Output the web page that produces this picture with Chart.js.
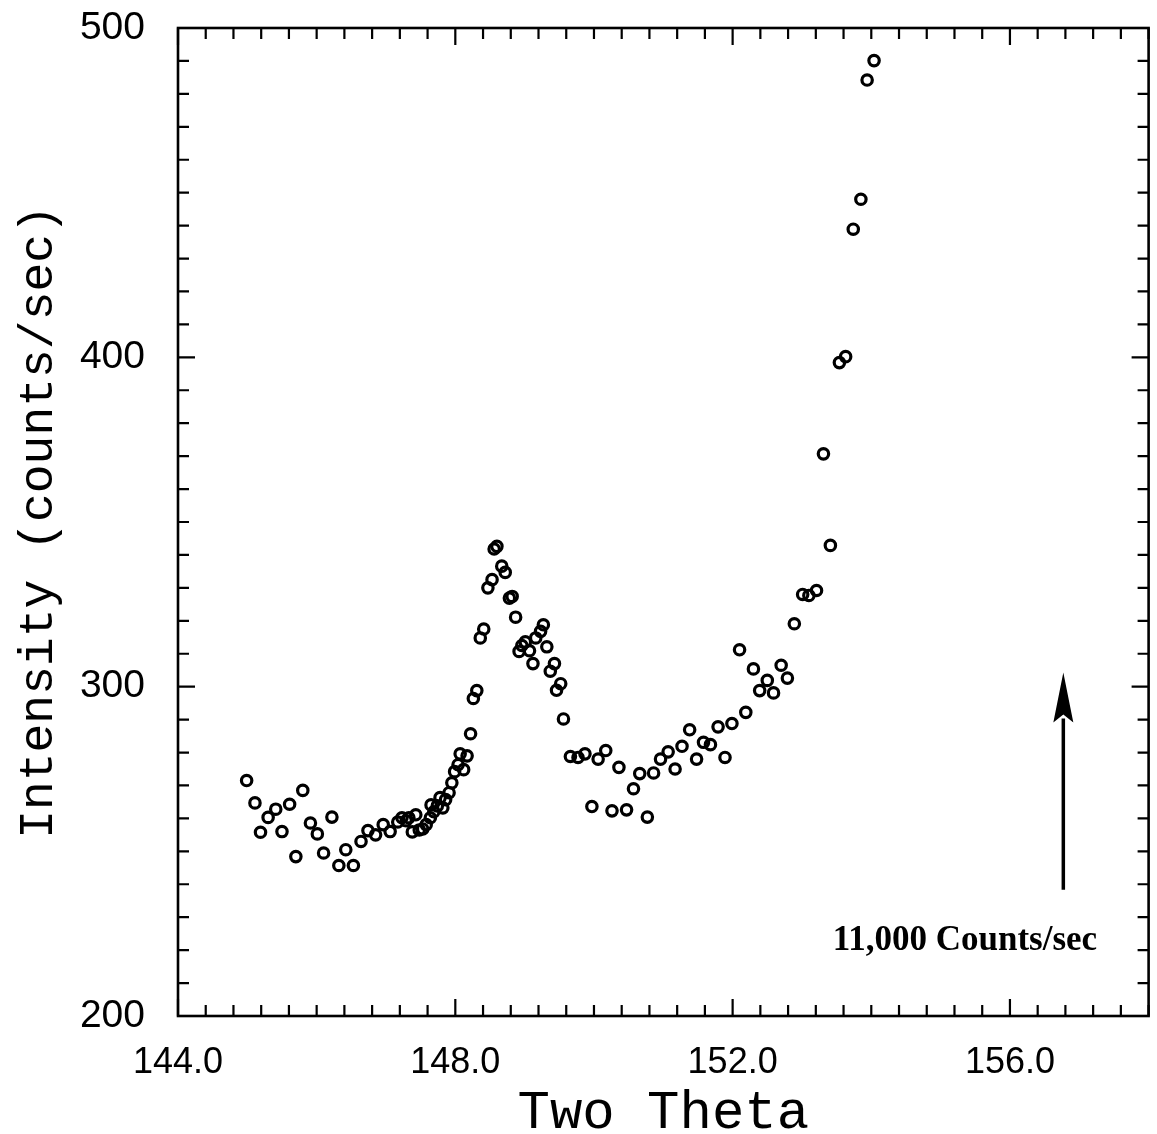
<!DOCTYPE html>
<html><head><meta charset="utf-8">
<script src="https://cdn.jsdelivr.net/npm/chart.js@4.4.1/dist/chart.umd.min.js"></script>
<style>html,body{margin:0;padding:0;background:#fff;overflow:hidden}</style>
</head><body>
<canvas id="c" width="1157" height="1134"></canvas>
<script>
// ---- data ----
const twoTheta = [
  144.99,145.11,145.19,145.30,145.41,145.50,145.61,145.70,145.80,145.91,
  146.01,146.10,146.22,146.32,146.42,146.53,146.64,146.74,146.85,146.96,
  147.06,147.17,147.23,147.29,147.33,147.38,147.43,147.48,147.53,147.58,
  147.64,147.65,147.69,147.74,147.78,147.82,147.86,147.91,147.95,147.99,
  148.04,148.07,148.12,148.17,148.22,148.26,148.31,148.36,148.41,148.47,
  148.53,148.56,148.60,148.67,148.72,148.78,148.82,148.87,148.92,148.96,
  149.01,149.07,149.12,149.16,149.23,149.27,149.32,149.37,149.43,149.46,
  149.52,149.56,149.66,149.77,149.87,149.97,150.06,150.17,150.26,150.36,
  150.47,150.57,150.66,150.77,150.86,150.96,151.07,151.17,151.27,151.38,
  151.48,151.58,151.68,151.79,151.89,151.99,152.10,152.19,152.30,152.39,
  152.50,152.59,152.70,152.79,152.89,153.01,153.10,153.21,153.31,153.41,
  153.54,153.63,153.74,153.85,153.94,154.04
];
const intensity = [
  271.5,264.7,255.8,260.3,262.8,256.0,264.3,248.4,268.5,258.6,
  255.3,249.5,260.4,245.7,250.5,245.7,253.0,256.3,255.0,258.1,
  256.0,258.9,260.2,259.3,260.2,255.9,261.1,256.5,256.8,258.1,
  260.2,264.1,262.0,263.8,266.3,263.2,265.7,267.8,270.8,274.2,
  276.3,279.6,274.8,279.0,285.7,296.4,298.8,314.8,317.5,330.0,
  332.5,341.8,342.6,336.6,334.7,326.9,327.4,321.1,310.7,312.5,
  313.6,310.9,307.0,314.8,316.8,318.8,312.1,304.7,307.0,298.9,
  300.9,290.2,278.8,278.5,279.6,263.6,278.0,280.6,262.3,275.5,
  262.6,269.0,273.6,260.4,273.8,278.0,280.2,275.0,281.9,286.9,
  278.0,283.1,282.4,287.8,278.5,288.8,311.2,292.2,305.4,298.8,
  301.9,298.1,306.5,302.6,319.1,328.0,327.7,329.2,370.7,342.9,
  398.4,400.2,438.9,448.0,484.2,490.1
];
const xTickValues = [144, 148, 152, 156];
const xTickLabels = ['144.0', '148.0', '152.0', '156.0'];
const yTickValues = [200, 300, 400, 500];
const yTickLabels = ['200', '300', '400', '500'];
const xAxisTitle = 'Two Theta';
const yAxisTitle = 'Intensity (counts/sec)';
const annotationText = '11,000 Counts/sec';

// ---- styling / layout constants ----
const X_MIN = 144, X_MAX = 158, Y_MIN = 200, Y_MAX = 500;
const X_MINOR = 0.4, X_MAJOR = 4, Y_MINOR = 10, Y_MAJOR = 100;
const ARROW_X = 156.77, ARROW_Y0 = 238.3, ARROW_Y1 = 304.3;
const NOTE_X = 155.35, NOTE_Y = 220;

const framePlugin = {
  id: 'frame',
  afterDraw(chart) {
    const {ctx, chartArea: a, scales: {x, y}} = chart;
    ctx.save();
    ctx.strokeStyle = '#000';
    ctx.lineWidth = 2.6;
    ctx.strokeRect(a.left, a.top, a.right - a.left, a.bottom - a.top);
    ctx.lineWidth = 2.2;
    ctx.beginPath();
    const nx = Math.round((X_MAX - X_MIN) / X_MINOR);
    for (let i = 0; i <= nx; i++) {
      const v = X_MIN + i * X_MINOR;
      const major = Math.abs(v / X_MAJOR - Math.round(v / X_MAJOR)) < 1e-6;
      const len = major ? 17 : 11;
      const px = x.getPixelForValue(v);
      ctx.moveTo(px, a.bottom); ctx.lineTo(px, a.bottom - len);
      ctx.moveTo(px, a.top); ctx.lineTo(px, a.top + len);
    }
    const ny = Math.round((Y_MAX - Y_MIN) / Y_MINOR);
    for (let i = 0; i <= ny; i++) {
      const v = Y_MIN + i * Y_MINOR;
      const major = (v % Y_MAJOR) === 0;
      const len = major ? 17 : 11;
      const py = y.getPixelForValue(v);
      ctx.moveTo(a.left, py); ctx.lineTo(a.left + len, py);
      ctx.moveTo(a.right, py); ctx.lineTo(a.right - len, py);
    }
    ctx.stroke();

    // arrow
    const ax = x.getPixelForValue(ARROW_X);
    const ay0 = y.getPixelForValue(ARROW_Y0);
    const ay1 = y.getPixelForValue(ARROW_Y1);
    const headLen = 50, headW = 10;
    ctx.lineWidth = 3.5;
    ctx.beginPath();
    ctx.moveTo(ax, ay0); ctx.lineTo(ax, ay1 + headLen - 4);
    ctx.stroke();
    ctx.fillStyle = '#000';
    ctx.beginPath();
    ctx.moveTo(ax, ay1);
    ctx.lineTo(ax - headW, ay1 + headLen);
    ctx.lineTo(ax, ay1 + headLen - 8);
    ctx.lineTo(ax + headW, ay1 + headLen);
    ctx.closePath();
    ctx.fill();

    // note text
    ctx.font = 'bold 35px "Liberation Serif", "Times New Roman", serif';
    ctx.textAlign = 'center';
    ctx.textBaseline = 'alphabetic';
    ctx.fillText(annotationText, x.getPixelForValue(NOTE_X), y.getPixelForValue(NOTE_Y));
    ctx.restore();
  }
};

new Chart(document.getElementById('c'), {
  type: 'scatter',
  data: {
    datasets: [{
      data: twoTheta.map((t, i) => ({x: t, y: intensity[i]})),
      pointStyle: 'circle',
      pointRadius: 5.2,
      pointHoverRadius: 5.2,
      borderWidth: 3.2,
      borderColor: '#000',
      backgroundColor: 'rgba(0,0,0,0)'
    }]
  },
  options: {
    responsive: false,
    devicePixelRatio: 1,
    animation: false,
    events: [],
    layout: {padding: {top: 28, right: 5, left: 0, bottom: 0}},
    plugins: {legend: {display: false}, tooltip: {enabled: false}, title: {display: false}},
    scales: {
      x: {
        type: 'linear', min: X_MIN, max: X_MAX,
        grid: {display: false, drawTicks: false},
        border: {display: false},
        afterBuildTicks: s => { s.ticks = xTickValues.map(v => ({value: v})); },
        afterFit: s => { s.height = 118; s.paddingLeft = 0; s.paddingRight = 0; },
        ticks: {
          autoSkip: false, maxRotation: 0, padding: 25, color: '#000',
          font: {family: '"Liberation Sans", Arial, sans-serif', size: 36},
          callback: (v, i) => xTickLabels[i]
        },
        title: {
          display: true, text: xAxisTitle, color: '#000',
          font: {family: '"Liberation Mono", "Courier New", monospace', size: 54, weight: 'normal', lineHeight: 0.75},
          padding: {top: 0, bottom: 0}
        }
      },
      y: {
        type: 'linear', min: Y_MIN, max: Y_MAX,
        grid: {display: false, drawTicks: false},
        border: {display: false},
        afterBuildTicks: s => { s.ticks = yTickValues.map(v => ({value: v})); },
        afterFit: s => { s.width = 178; s.paddingTop = 0; s.paddingBottom = 0; },
        ticks: {
          autoSkip: false, padding: 33, color: '#000',
          font: {family: '"Liberation Sans", Arial, sans-serif', size: 39},
          callback: (v, i) => yTickLabels[i]
        },
        title: {
          display: true, text: yAxisTitle, color: '#000',
          font: {family: '"Liberation Mono", "Courier New", monospace', size: 48, weight: 'normal', lineHeight: 1},
          padding: {top: 15, bottom: 0}
        }
      }
    }
  },
  plugins: [framePlugin]
});
</script>
</body></html>
